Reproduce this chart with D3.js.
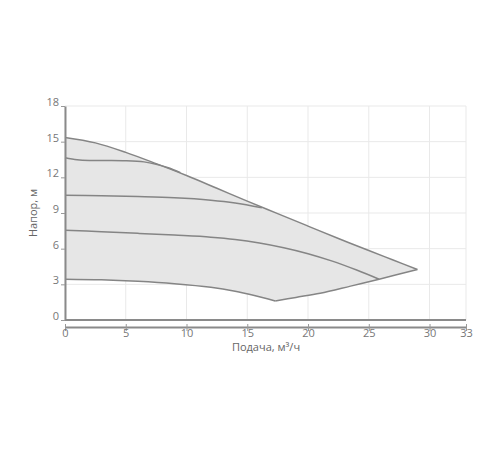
<!DOCTYPE html>
<html>
<head>
<meta charset="utf-8">
<script src="https://cdn.jsdelivr.net/npm/d3@7"></script>
<style>
  body { margin: 0; background: #fff; }
  text { font-family: "Open Sans", "DejaVu Sans", sans-serif; }
</style>
</head>
<body>
<div id="chart"></div>
<script>
// flow, m3/h and head, m
const xTicks = [0, 5, 10, 15, 20, 25, 30, 33];
const yTicks = [0, 3, 6, 9, 12, 15, 18];

const maxFlow = [0, 2.5, 5, 7.5, 10, 12.5, 15, 17.5, 20, 22.5, 25, 27, 29];
const maxHead = [15.36, 14.9, 14.1, 13.15, 12.15, 11.08, 10.0, 8.95, 7.9, 6.85, 5.85, 5.05, 4.25];

const speed2Flow = [0, 1, 2, 3.5, 5, 6.5, 7.5, 8.5, 9.5];
const speed2Head = [13.65, 13.48, 13.42, 13.42, 13.4, 13.3, 13.1, 12.8, 12.4];

const speed3Flow = [0, 3, 6, 9, 12, 14, 16.2];
const speed3Head = [10.5, 10.45, 10.38, 10.28, 10.08, 9.85, 9.45];

const speed4Flow = [0, 3, 6, 9, 12, 14, 16, 18, 20, 22, 24, 25.85];
const speed4Head = [7.55, 7.43, 7.29, 7.14, 6.97, 6.78, 6.48, 6.08, 5.58, 4.95, 4.2, 3.43];

const minFlow = [0, 3, 6, 9, 12, 14, 15.5, 17.3];
const minHead = [3.43, 3.38, 3.25, 3.05, 2.75, 2.42, 2.08, 1.6];

const edgeFlow = [17.3, 19, 21, 23.5, 25.85, 29];
const edgeHead = [1.6, 1.9, 2.25, 2.85, 3.43, 4.25];

const width = 500, height = 450;
const margin = { top: 106, right: 34, bottom: 130, left: 65 };

const svg = d3.select('#chart').append('svg')
  .attr('width', width)
  .attr('height', height);

const x = d3.scaleLinear().domain([0, 33]).range([margin.left, width - margin.right]);
const y = d3.scaleLinear().domain([0, 18]).range([height - margin.bottom, margin.top]);

const pts = (xs, ys) => xs.map((v, i) => [v, ys[i]]);

// grid
svg.append('g')
  .selectAll('line')
  .data(xTicks)
  .enter().append('line')
  .attr('x1', d => x(d)).attr('x2', d => x(d))
  .attr('y1', y(18)).attr('y2', y(0))
  .attr('stroke', '#e9e9e9');

svg.append('g')
  .selectAll('line')
  .data(yTicks)
  .enter().append('line')
  .attr('x1', x(0)).attr('x2', x(33))
  .attr('y1', d => y(d)).attr('y2', d => y(d))
  .attr('stroke', '#e9e9e9');

const line = d3.line()
  .x(d => x(d[0]))
  .y(d => y(d[1]))
  .curve(d3.curveCatmullRom);

const upperPts = pts(maxFlow, maxHead);
const edgePts = pts(edgeFlow, edgeHead).reverse();
const lowerPts = pts(minFlow, minHead).reverse();

// working area fill
svg.append('path')
  .attr('d', line(upperPts) + line(edgePts).replace(/^M/, 'L') + line(lowerPts).replace(/^M/, 'L') + 'Z')
  .attr('fill', '#e6e6e6');

const curves = [
  pts(maxFlow, maxHead),
  pts(speed2Flow, speed2Head),
  pts(speed3Flow, speed3Head),
  pts(speed4Flow, speed4Head),
  pts(minFlow, minHead),
  pts(edgeFlow, edgeHead)
];

svg.append('g')
  .selectAll('path')
  .data(curves)
  .enter().append('path')
  .attr('d', line)
  .attr('fill', 'none')
  .attr('stroke', '#858585')
  .attr('stroke-width', 1.5);

// y axis
const yAxis = svg.append('g')
  .attr('transform', `translate(${x(0)},0)`)
  .call(d3.axisLeft(y).tickValues(yTicks).tickSize(4).tickSizeOuter(0));
yAxis.select('.domain').attr('stroke', '#8a8a8a').attr('stroke-width', 2);
yAxis.selectAll('.tick line').attr('stroke', '#999');
yAxis.selectAll('.tick text')
  .attr('x', -6)
  .attr('dy', '-0.05em')
  .attr('fill', '#777')
  .attr('font-size', '11px');

// plot bottom border
svg.append('line')
  .attr('x1', x(0)).attr('x2', x(33))
  .attr('y1', y(0)).attr('y2', y(0))
  .attr('stroke', '#8a8a8a')
  .attr('stroke-width', 2);

// x axis
const xAxis = svg.append('g')
  .attr('transform', `translate(0,${y(0) + 7})`)
  .call(d3.axisBottom(x).tickValues(xTicks).tickSize(4).tickSizeOuter(0));
xAxis.select('.domain').attr('stroke', '#8a8a8a').attr('stroke-width', 2);
xAxis.selectAll('.tick line').attr('stroke', '#999').attr('y1', -3);
xAxis.selectAll('.tick text')
  .attr('y', 2)
  .attr('fill', '#777')
  .attr('font-size', '11px');

// axis titles
svg.append('text')
  .attr('transform', `translate(37,${(y(0) + y(18)) / 2}) rotate(-90)`)
  .attr('text-anchor', 'middle')
  .attr('fill', '#666')
  .attr('font-size', '11px')
  .text('Напор, м');

svg.append('text')
  .attr('x', 266)
  .attr('y', 351)
  .attr('text-anchor', 'middle')
  .attr('fill', '#666')
  .attr('font-size', '11px')
  .text('Подача, м³/ч');
</script>
</body>
</html>
